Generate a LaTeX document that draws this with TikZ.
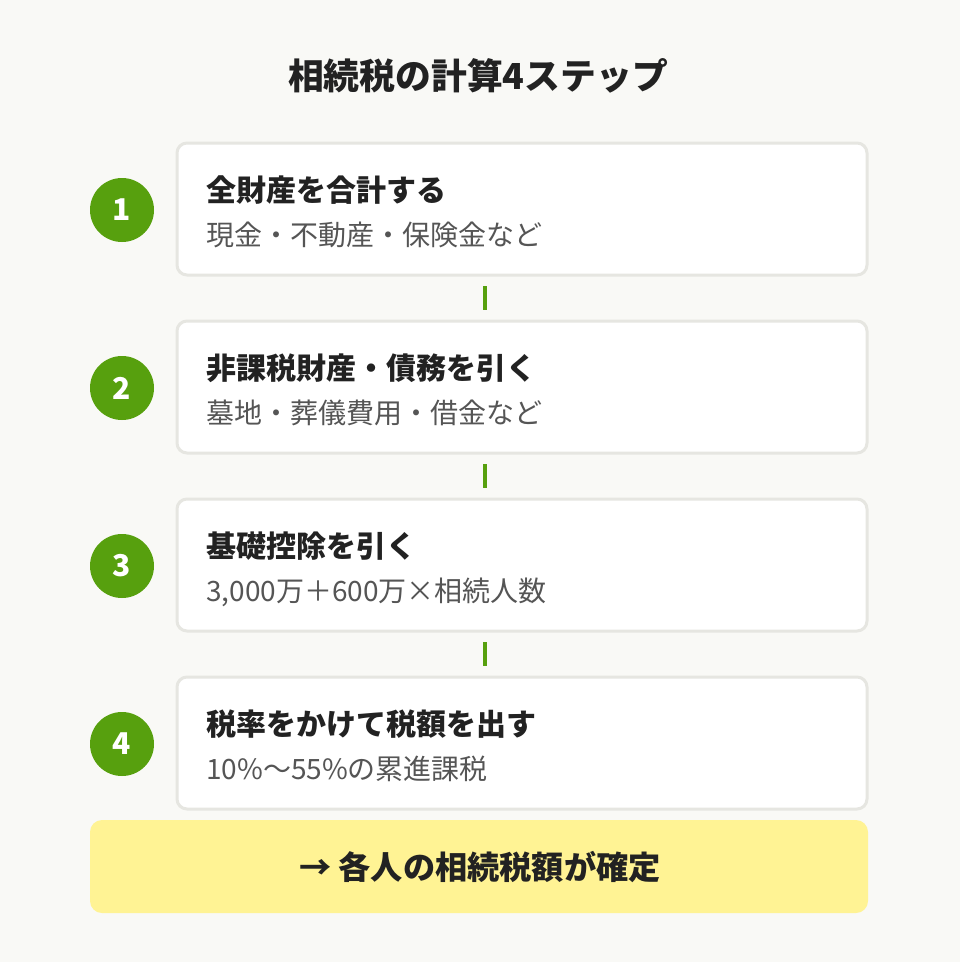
\documentclass[tikz,border=0pt]{standalone}
\usepackage{fontspec}
\setmainfont{Noto Sans CJK JP}
\definecolor{bgc}{HTML}{F9F9F6}
\definecolor{grn}{HTML}{57A00E}
\definecolor{bord}{HTML}{E6E6E1}
\definecolor{ylw}{HTML}{FFF394}
\definecolor{dark}{HTML}{222222}
\definecolor{sub}{HTML}{555555}
\tikzset{
  stepbox/.style={draw=bord, line width=3pt, fill=white, rounded corners=10pt, minimum width=690pt, minimum height=132pt, inner sep=0pt},
  numcirc/.style={circle, fill=grn, minimum size=64pt, inner sep=0pt, text=white, font=\fontsize{30pt}{30pt}\selectfont\bfseries},
  steptitle/.style={anchor=base west, inner sep=0pt, text=dark, font=\fontsize{30pt}{30pt}\selectfont\bfseries},
  stepsub/.style={anchor=base west, inner sep=0pt, text=sub, font=\fontsize{28pt}{28pt}\selectfont},
  conn/.style={draw=grn, line width=4pt},
}
\begin{document}
\begin{tikzpicture}[x=1pt,y=-1pt]
\fill[bgc] (0,0) rectangle (960,962);
\useasboundingbox (0,0) rectangle (960,962);
\node[inner sep=0pt, text=dark, font=\fontsize{35.8pt}{35.8pt}\selectfont\bfseries] (title) at (478,76) {相続税の計算4ステップ};

\node[stepbox] (b1) at (522,209) {};
\node[stepbox] (b2) at (522,387) {};
\node[stepbox] (b3) at (522,565) {};
\node[stepbox] (b4) at (522,743) {};

\node[numcirc] (c1) at (122,210) {1};
\node[numcirc] (c2) at (122,388) {2};
\node[numcirc] (c3) at (122,566) {3};
\node[numcirc] (c4) at (122,744) {4};

\node[steptitle] (t1) at (206,201) {全財産を合計する};
\node[stepsub] (s1) at (206,245) {現金・不動産・保険金など};
\node[steptitle] (t2) at (206,379) {非課税財産・債務を引く};
\node[stepsub] (s2) at (206,423) {墓地・葬儀費用・借金など};
\node[steptitle] (t3) at (206,557) {基礎控除を引く};
\node[stepsub] (s3) at (206,601) {3,000万＋600万×相続人数};
\node[steptitle] (t4) at (206,735) {税率をかけて税額を出す};
\node[stepsub] (s4) at (206,779) {10\%〜55\%の累進課税};

\foreach \a/\b in {b1/b2,b2/b3,b3/b4}{
  \draw[conn] ([xshift=-37pt,yshift=-9.5pt]\a.south) -- ([xshift=-37pt,yshift=9.5pt]\b.north);
}

\node[fill=ylw, rounded corners=12pt, minimum width=778pt, minimum height=93pt, inner sep=0pt] (res) at (479,866.5) {};
\node[inner sep=0pt, text=dark, font=\fontsize{32.2pt}{32.2pt}\selectfont\bfseries] (rest) at (480,867) {→ 各人の相続税額が確定};
\end{tikzpicture}
\end{document}
